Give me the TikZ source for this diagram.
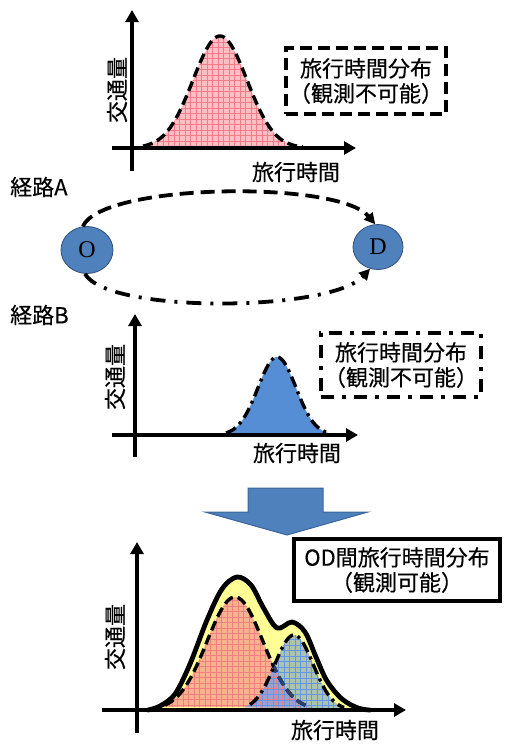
\documentclass[tikz,border=0pt]{standalone}
\usepackage{fontspec}
\setmainfont{Liberation Serif}
\newfontfamily\jp[FakeBold=0.35]{Noto Sans CJK JP}
\usetikzlibrary{arrows.meta,shapes.geometric}
\definecolor{nodeblue}{RGB}{79,129,189}
\definecolor{nodeedge}{RGB}{50,80,120}
\definecolor{pinkfill}{RGB}{255,190,196}
\definecolor{pinkgrid}{RGB}{240,125,135}
\definecolor{midblue}{RGB}{85,142,213}
\definecolor{yel}{RGB}{255,255,150}
\definecolor{salmon}{RGB}{250,178,142}
\definecolor{sage}{RGB}{170,196,176}
\definecolor{lav}{RGB}{158,160,208}
\definecolor{bluegrid}{RGB}{105,150,228}
\definecolor{redgrid}{RGB}{238,128,128}
\definecolor{arrowedge}{RGB}{60,100,155}
\definecolor{darkdash}{RGB}{45,65,105}
\begin{document}
\begin{tikzpicture}[x=1pt,y=-1pt,
  axis/.style={line width=3.8pt,-{Triangle[length=12pt,width=13pt]}},
  lbl/.style={font=\jp\fontsize{22}{25}\selectfont, inner sep=0pt},
  boxlbl/.style={font=\jp\fontsize{22}{25}\selectfont, align=center, line width=4.4pt, inner sep=0pt},
  odnode/.style={ellipse, fill=nodeblue, draw=nodeedge, line width=0.8pt, inner sep=0pt, font=\fontsize{24}{26}\selectfont},
  dashcurve/.style={line width=3.4pt, dash pattern=on 10pt off 5pt},
  dotcurve/.style={line width=3.4pt, dash pattern=on 11pt off 5pt on 3pt off 5pt},
  routeA/.style={line width=3.8pt, dash pattern=on 14pt off 7pt, -{Triangle[length=11pt,width=11pt]}},
  routeB/.style={line width=3.8pt, dash pattern=on 15pt off 9pt on 3pt off 9pt, -{Triangle[length=11pt,width=11pt]}},
  gridline/.style={line width=0.7pt}
]
\useasboundingbox (0,0) rectangle (504,744);

%================ top chart =================
\path[save path=\pinkpath] plot[domain=140:300,samples=90] (\x,{148-112*exp(-((\x-220)^2)/1458)}) -- cycle;
\path[use path=\pinkpath, fill=pinkfill];
\begin{scope}
  \clip[use path=\pinkpath];
  \foreach \gx in {130,135.5,...,310} \draw[pinkgrid, gridline] (\gx,20) -- (\gx,150);
  \foreach \gy in {20,25.5,...,150} \draw[pinkgrid, gridline] (130,\gy) -- (310,\gy);
\end{scope}
\draw[dashcurve] plot[domain=143:303,samples=90] (\x,{148-112*exp(-((\x-220)^2)/1458)});
\coordinate (t-y0) at (132,171);
\coordinate (t-y1) at (132,10);
\coordinate (t-x0) at (112,148);
\coordinate (t-x1) at (356,148);
\draw[axis] (t-y0) -- (t-y1);
\draw[axis] (t-x0) -- (t-x1);
\node[lbl, rotate=90] (t-ylab) at (117,90) {交通量};
\node[lbl] (t-xlab) at (296,172) {旅行時間};
\node[boxlbl, draw, dash pattern=on 12pt off 6pt, minimum width=160, minimum height=66] (t-box) at (366,81) {旅行時間分布\\（観測不可能）};

%================ O - D =================
\node[lbl, anchor=west] (rA) at (10,187) {経路A};
\node[lbl, anchor=west] (rB) at (10,315) {経路B};
\node[odnode, minimum width=52, minimum height=47] (O) at (87,250) {O};
\node[odnode, minimum width=50, minimum height=45] (D) at (378,247) {D};
\draw[routeA] (O.100) .. controls (102,183) and (338,180) .. (D.97);
\draw[routeB] (O.265) .. controls (108,314) and (330,312) .. (D.250);

%================ middle chart =================
\fill[midblue] plot[domain=225:329,samples=80] (\x,{435-78*exp(-((\x-277)^2)/722)}) -- cycle;
\draw[dotcurve] plot[domain=226:326,samples=80] (\x,{435-78*exp(-((\x-277)^2)/722)});
\coordinate (m-y0) at (135,457);
\coordinate (m-y1) at (135,314);
\coordinate (m-x0) at (112,435);
\coordinate (m-x1) at (358,435);
\draw[axis] (m-y0) -- (m-y1);
\draw[axis] (m-x0) -- (m-x1);
\node[lbl, rotate=90] (m-ylab) at (115,377) {交通量};
\node[lbl] (m-xlab) at (297,453) {旅行時間};
\node[boxlbl, draw, dash pattern=on 13pt off 8pt on 4pt off 8pt, minimum width=160, minimum height=64] (m-box) at (401,365) {旅行時間分布\\（観測不可能）};

%================ big arrow =================
\draw[fill=nodeblue, draw=arrowedge, line width=1pt]
  (248,488) -- (323,488) -- (323,512) -- (368,512) -- (287,535) -- (205,512) -- (248,512) -- cycle;

%================ bottom chart =================
\path[save path=\totpath] plot[smooth, tension=0.55] coordinates {
  (145,710) (160,706) (175,694) (190,664) (207,620) (222,589) (237,577) (251,585)
  (263,607) (277,628) (292,622) (305,632) (316,657) (327,681) (342,699) (358,708) (372,710)} -- cycle;
\path[save path=\redpath] plot[domain=160:312,samples=90] (\x,{710-113*exp(-((\x-235)^2)/1568)}) -- cycle;
\path[save path=\bluepath] plot[domain=244:346,samples=80] (\x,{710-75*exp(-((\x-294)^2)/740)}) -- cycle;
\path[use path=\totpath, fill=yel];
\path[use path=\redpath, fill=salmon];
\path[use path=\bluepath, fill=sage];
\begin{scope}
  \clip[use path=\redpath];
  \path[use path=\bluepath, fill=lav];
  \foreach \gx in {150,155.5,...,320} \draw[redgrid, gridline] (\gx,560) -- (\gx,712);
  \foreach \gy in {562,567.5,...,712} \draw[redgrid, gridline] (150,\gy) -- (320,\gy);
\end{scope}
\begin{scope}
  \clip[use path=\bluepath];
  \foreach \gx in {240,245.5,...,350} \draw[bluegrid, gridline] (\gx,600) -- (\gx,712);
  \foreach \gy in {601,606.5,...,712} \draw[bluegrid, gridline] (240,\gy) -- (350,\gy);
\end{scope}
\draw[dashcurve] plot[domain=165:307,samples=90] (\x,{710-113*exp(-((\x-235)^2)/1568)});
\begin{scope}
  \clip[use path=\bluepath];
  \draw[dashcurve, draw=darkdash] plot[domain=165:307,samples=90] (\x,{710-113*exp(-((\x-235)^2)/1568)});
\end{scope}
\draw[dotcurve] plot[domain=250:344,samples=80] (\x,{710-75*exp(-((\x-294)^2)/740)});
\draw[line width=4.8pt, line join=round, line cap=round] plot[smooth, tension=0.55] coordinates {
  (148,710) (160,706) (175,694) (190,664) (207,620) (222,589) (237,577) (251,585)
  (263,607) (277,628) (292,622) (305,632) (316,657) (327,681) (342,699) (358,708) (370,710)};
\coordinate (b-y0) at (137,733);
\coordinate (b-y1) at (137,542);
\coordinate (b-x0) at (102,710);
\coordinate (b-x1) at (406,710);
\draw[axis] (b-y0) -- (b-y1);
\draw[axis] (b-x0) -- (b-x1);
\node[lbl, rotate=90] (b-ylab) at (115,637) {交通量};
\node[lbl] (b-xlab) at (335,730) {旅行時間};
\node[boxlbl, draw, minimum width=206, minimum height=62] (b-box) at (397,570) {OD間旅行時間分布\\（観測可能）};
\end{tikzpicture}
\end{document}
